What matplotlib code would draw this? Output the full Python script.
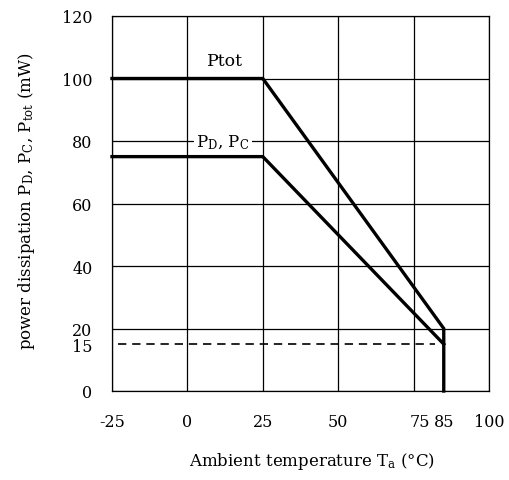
import matplotlib
matplotlib.use("Agg")
import matplotlib.pyplot as plt
import matplotlib.transforms as mtransforms

plt.rcParams['font.family'] = ['DejaVu Serif']
plt.rcParams['mathtext.fontset'] = 'custom'
plt.rcParams['mathtext.rm'] = 'DejaVu Serif'
plt.rcParams['mathtext.it'] = 'DejaVu Serif:italic'

# Data
ptot_x = [-25, 25, 85, 85]
ptot_y = [100, 100, 20, 0]
pdpc_x = [-25, 25, 85]
pdpc_y = [75, 75, 15]
dash_x = [-23, 82]
dash_y = [15, 15]
grid_x = [-25, 0, 25, 50, 75, 100]
grid_y = [0, 20, 40, 60, 80, 100, 120]
xtick_vals = [-25, 0, 25, 50, 75, 85, 100]
xtick_labels = ['-25', '0', '25', '50', '75', '85', '100']
ytick_vals = [0, 15, 20, 40, 60, 80, 100, 120]
ytick_labels = ['0', '15', '20', '40', '60', '80', '100', '120']

fig = plt.figure(figsize=(5.10, 4.81), dpi=100)
ax = fig.add_axes([112/510, 1 - 392/481, (489-112)/510, (392-17)/481])
ax.set_xlim(-25, 100)
ax.set_ylim(0, 120)

for gx in grid_x:
    ax.axvline(gx, color='black', lw=0.9, zorder=1)
for gy in grid_y:
    ax.axhline(gy, color='black', lw=0.9, zorder=1)

ax.plot(ptot_x, ptot_y, color='black', lw=2.4, solid_joinstyle='miter', clip_on=False, zorder=3)
ax.plot(pdpc_x, pdpc_y, color='black', lw=2.4, solid_joinstyle='miter', clip_on=False, zorder=3)
ax.plot(dash_x, dash_y, color='black', lw=1.2, linestyle=(0, (5, 3.5)), zorder=3)

ax.set_xticks(xtick_vals)
ax.set_xticklabels(xtick_labels)
ax.set_yticks(ytick_vals)
ax.set_yticklabels(ytick_labels)
ax.tick_params(length=0, labelsize=11.5)
ax.tick_params(axis='x', pad=16)
ax.tick_params(axis='y', pad=14)
for spine in ax.spines.values():
    spine.set_linewidth(0.9)

# shift "75" label a bit to the right as in the reference
for lbl in ax.get_xticklabels():
    if lbl.get_text() == '75':
        lbl.set_transform(lbl.get_transform() + mtransforms.ScaledTranslation(6/100, 0, fig.dpi_scale_trans))

ax.text(12.3, 105.6, 'Ptot', ha='center', va='center', fontsize=12.5, zorder=4)
ax.text(11.8, 79.7, r'P$_\mathrm{D}$, P$_\mathrm{C}$', ha='center', va='center', fontsize=12, zorder=4,
        bbox=dict(facecolor='white', edgecolor='none', pad=2))

fig.text(312/510, 1 - 462/481, 'Ambient temperature T$_\\mathrm{a}$ (°C)', ha='center', va='center', fontsize=12)
fig.text(27/510, 1 - 201/481, r'power dissipation P$_\mathrm{D}$, P$_\mathrm{C}$, P$_\mathrm{tot}$ (mW)',
         ha='center', va='center', rotation=90, fontsize=12)

fig.savefig('out.png', dpi=100)
